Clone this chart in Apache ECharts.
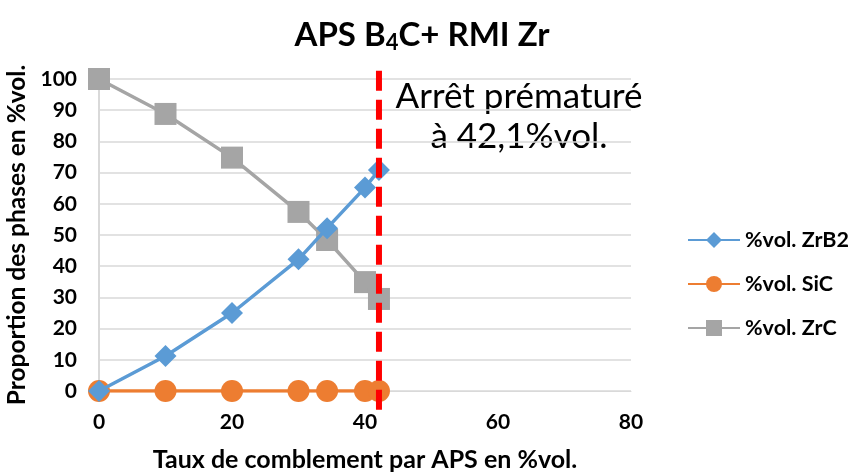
<!DOCTYPE html>
<html>
<head>
<meta charset="utf-8">
<script src="https://cdn.jsdelivr.net/npm/echarts@6/dist/echarts.min.js"></script>
<style>
  html, body { margin: 0; padding: 0; background: #fff; }
  #chart { width: 849px; height: 476px; }
</style>
</head>
<body>
<div id="chart"></div>
<script>
// Filling rate by APS (%vol.)
const fillRate = [0, 10, 20, 30, 34.3, 40, 42.1];
// Phase proportions (%vol.)
const zrb2 = [0, 11.2, 25, 42.2, 52.2, 65.2, 70.8];
const sic = [0, 0, 0, 0, 0, 0, 0];
const zrc = [100, 88.8, 74.8, 57.4, 48.4, 34.9, 29.5];
// Premature stop of the infiltration
const stopAt = 42.1;
const stopSpan = [-6, 104.5];

const FONT = 'Lato, "Open Sans", sans-serif';
const pairs = ys => fillRate.map((x, i) => [x, ys[i]]);

const chart = echarts.init(document.getElementById('chart'));
chart.setOption({
  animation: false,
  title: {
    text: 'APS B{sub|4}C+ RMI Zr',
    left: 417, top: 11, textAlign: 'center',
    textStyle: {
      fontFamily: FONT, fontSize: 33, fontWeight: 'bold', color: '#000',
      rich: { sub: { fontFamily: FONT, fontSize: 22, fontWeight: 'bold', color: '#000', verticalAlign: 'bottom', padding: [16, 0, 0, 0] } }
    }
  },
  grid: { left: 99, right: 218, top: 79, bottom: 85, containLabel: false, outerBoundsMode: 'none' },
  legend: {
    orient: 'vertical', left: 682, top: 224, itemGap: 22,
    itemWidth: 52, itemHeight: 20,
    textStyle: { fontFamily: FONT, fontSize: 21.5, fontWeight: 'bold', color: '#000' },
    data: ['%vol. ZrB2', '%vol. SiC', '%vol. ZrC']
  },
  xAxis: {
    type: 'value', min: 0, max: 80, interval: 20,
    name: 'Taux de comblement par APS en %vol.',
    nameLocation: 'middle', nameGap: 56,
    nameTextStyle: { fontFamily: FONT, fontSize: 25, fontWeight: 'bold', color: '#000' },
    axisLine: { show: true, lineStyle: { color: '#d9d9d9', width: 1 } },
    axisTick: { show: false },
    splitLine: { show: false },
    axisLabel: { fontFamily: FONT, fontSize: 21, fontWeight: 'bold', color: '#000', margin: 21 }
  },
  yAxis: {
    type: 'value', min: 0, max: 100, interval: 10,
    name: 'Proportion des phases en %vol.',
    nameLocation: 'middle', nameGap: 66,
    nameTextStyle: { fontFamily: FONT, fontSize: 24.5, fontWeight: 'bold', color: '#000' },
    axisLine: { show: true, lineStyle: { color: '#d9d9d9', width: 2 } },
    axisTick: { show: false },
    splitLine: { lineStyle: { color: '#d9d9d9', width: 1.5 } },
    axisLabel: { fontFamily: FONT, fontSize: 21, fontWeight: 'bold', color: '#000', margin: 22 }
  },
  series: [
    {
      name: '%vol. ZrC', type: 'line', data: pairs(zrc), z: 3,
      symbol: 'rect', symbolSize: 22,
      lineStyle: { color: '#A5A5A5', width: 3.5 },
      itemStyle: { color: '#A5A5A5' }
    },
    {
      name: '%vol. SiC', type: 'line', data: pairs(sic), z: 4,
      symbol: 'circle', symbolSize: 22,
      lineStyle: { color: '#ED7D31', width: 3.5 },
      itemStyle: { color: '#ED7D31' }
    },
    {
      name: '%vol. ZrB2', type: 'line', data: pairs(zrb2), z: 5,
      symbol: 'diamond', symbolSize: 22,
      lineStyle: { color: '#5B9BD5', width: 3.5 },
      itemStyle: { color: '#5B9BD5' }
    },
    {
      name: 'stop', type: 'line', z: 6, clip: false, silent: true,
      data: stopSpan.map(y => [stopAt, y]),
      symbol: 'none',
      lineStyle: { color: '#FF0000', width: 6, type: [20, 9] }
    }
  ],
  graphic: [{
    type: 'text', x: 519, y: 77,
    style: {
      text: 'Arrêt prématuré\nà 42,1%vol.',
      fontFamily: FONT, fontSize: 35, lineHeight: 40,
      fill: '#000', align: 'center', verticalAlign: 'top'
    }
  }]
});
</script>
</body>
</html>
